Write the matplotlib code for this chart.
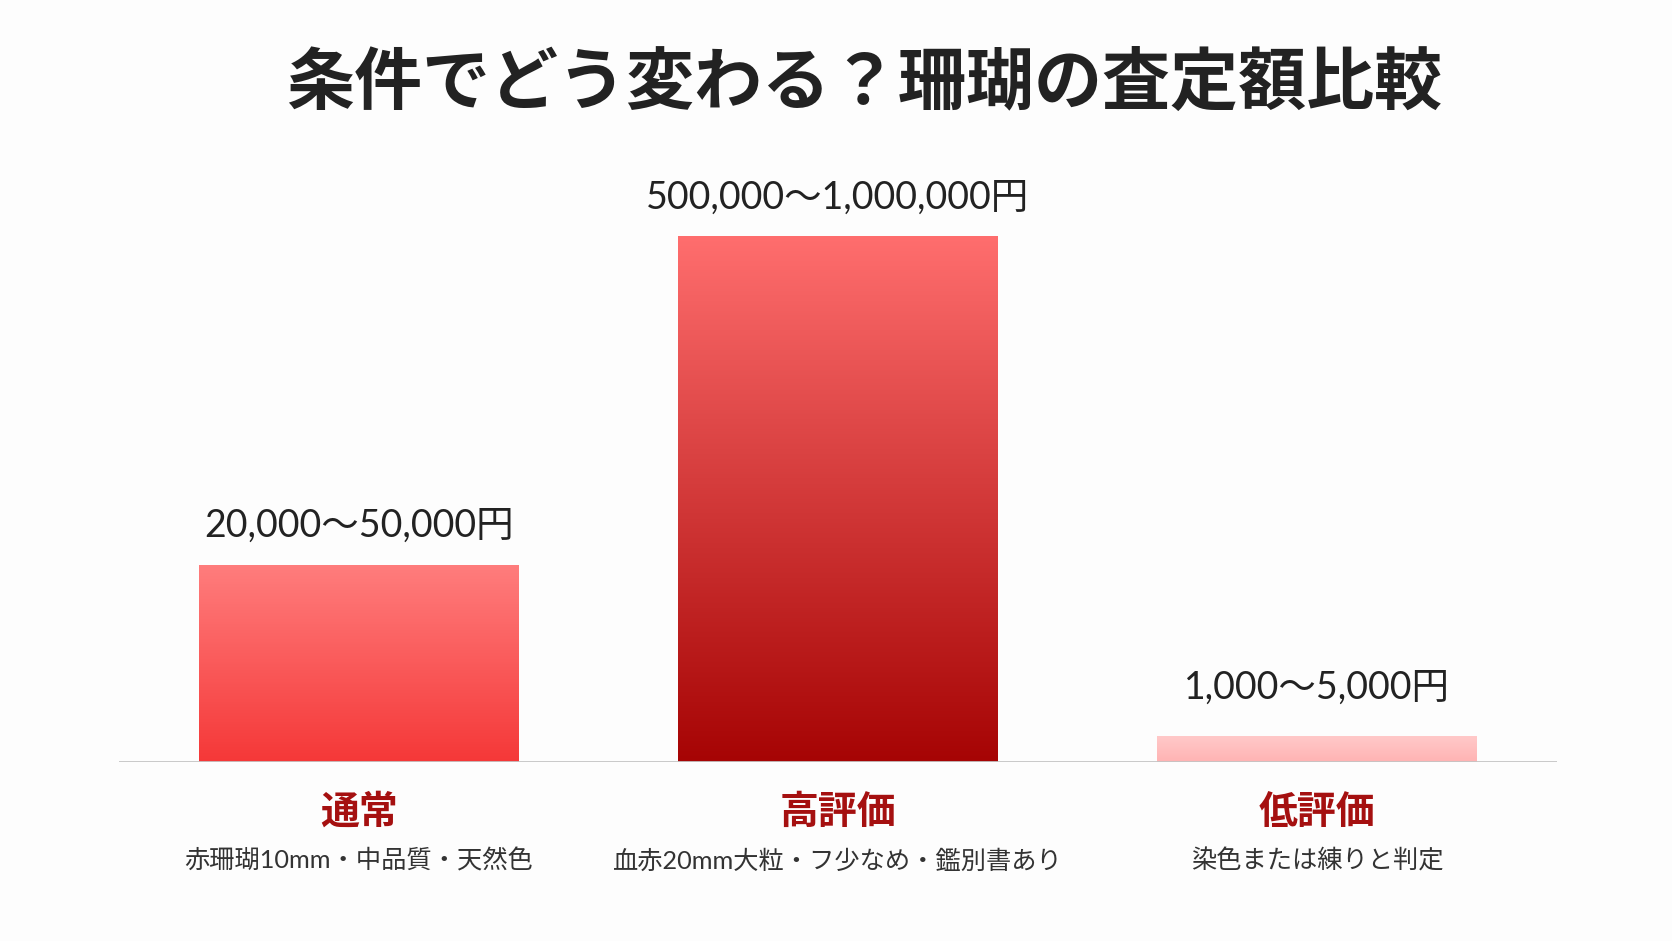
import matplotlib.pyplot as plt
import numpy as np
from matplotlib.colors import LinearSegmentedColormap

plt.rcParams['font.family'] = ['Noto Sans CJK JP', 'DejaVu Sans']
latin_cjk = ['Lato', 'Noto Sans CJK JP', 'DejaVu Sans']

# chart data
categories = ['通常', '高評価', '低評価']
descriptions = ['赤珊瑚10mm・中品質・天然色',
                '血赤20mm大粒・フ少なめ・鑑別書あり',
                '染色または練りと判定']
price_labels = ['20,000〜50,000円', '500,000〜1,000,000円', '1,000〜5,000円']
bar_heights = [37.5, 100, 5]  # visual scale used in the picture

# gradient colours per bar (top, bottom)
grad_colors = [('#ff7d7d', '#f53838'),
               ('#ff6e6e', '#a60404'),
               ('#ffcaca', '#ffb3b3')]

fig = plt.figure(figsize=(16.72, 9.41), dpi=100, facecolor='#fdfdfd')
ax = fig.add_axes([0.0712, 0.190, 0.860, 0.559])
ax.set_facecolor('none')

x = np.arange(len(categories))
bars = ax.bar(x, bar_heights, width=0.667, color='none', edgecolor='none')
ax.set_xlim(-0.5, 2.5)
ax.set_ylim(0, 100)

# fill each bar with a vertical gradient
grad = np.linspace(0, 1, 256).reshape(-1, 1)
for bar, (top, bottom) in zip(bars, grad_colors):
    cmap = LinearSegmentedColormap.from_list('g', [bottom, top])
    bx, bw, bh = bar.get_x(), bar.get_width(), bar.get_height()
    im = ax.imshow(grad, cmap=cmap, aspect='auto', origin='lower',
                   extent=(bx, bx + bw, 0, bh), zorder=2)
    im.set_clip_path(bar)

# price labels above bars (small bar gets a bit more room)
for bar, lab in zip(bars, price_labels):
    off = 28 if bar.get_height() > 20 else 35
    ax.annotate(lab, (bar.get_x() + bar.get_width() / 2, bar.get_height()),
                xytext=(0, off), textcoords='offset points',
                ha='center', va='center', fontsize=27, color='#222222',
                family=latin_cjk, annotation_clip=False)

# baseline
ax.axhline(0, color='#c4c4c4', lw=2, zorder=3)
for s in ax.spines.values():
    s.set_visible(False)
ax.set_xticks([])
ax.set_yticks([])

# category names and descriptions
for xi, cat, desc in zip(x, categories, descriptions):
    ax.annotate(cat, (xi, 0), xytext=(0, -36), textcoords='offset points',
                ha='center', va='center', fontsize=28, fontweight='bold',
                color='#a51010', annotation_clip=False)
    ax.annotate(desc, (xi, 0), xytext=(0, -71), textcoords='offset points',
                ha='center', va='center', fontsize=18.2, color='#333333',
                family=latin_cjk, annotation_clip=False)

fig.text(0.517, 0.91, '条件でどう変わる？珊瑚の査定額比較', ha='center', va='center',
         fontsize=49, fontweight='bold', color='#222222')

fig.savefig('out.png', dpi=100, facecolor=fig.get_facecolor())
